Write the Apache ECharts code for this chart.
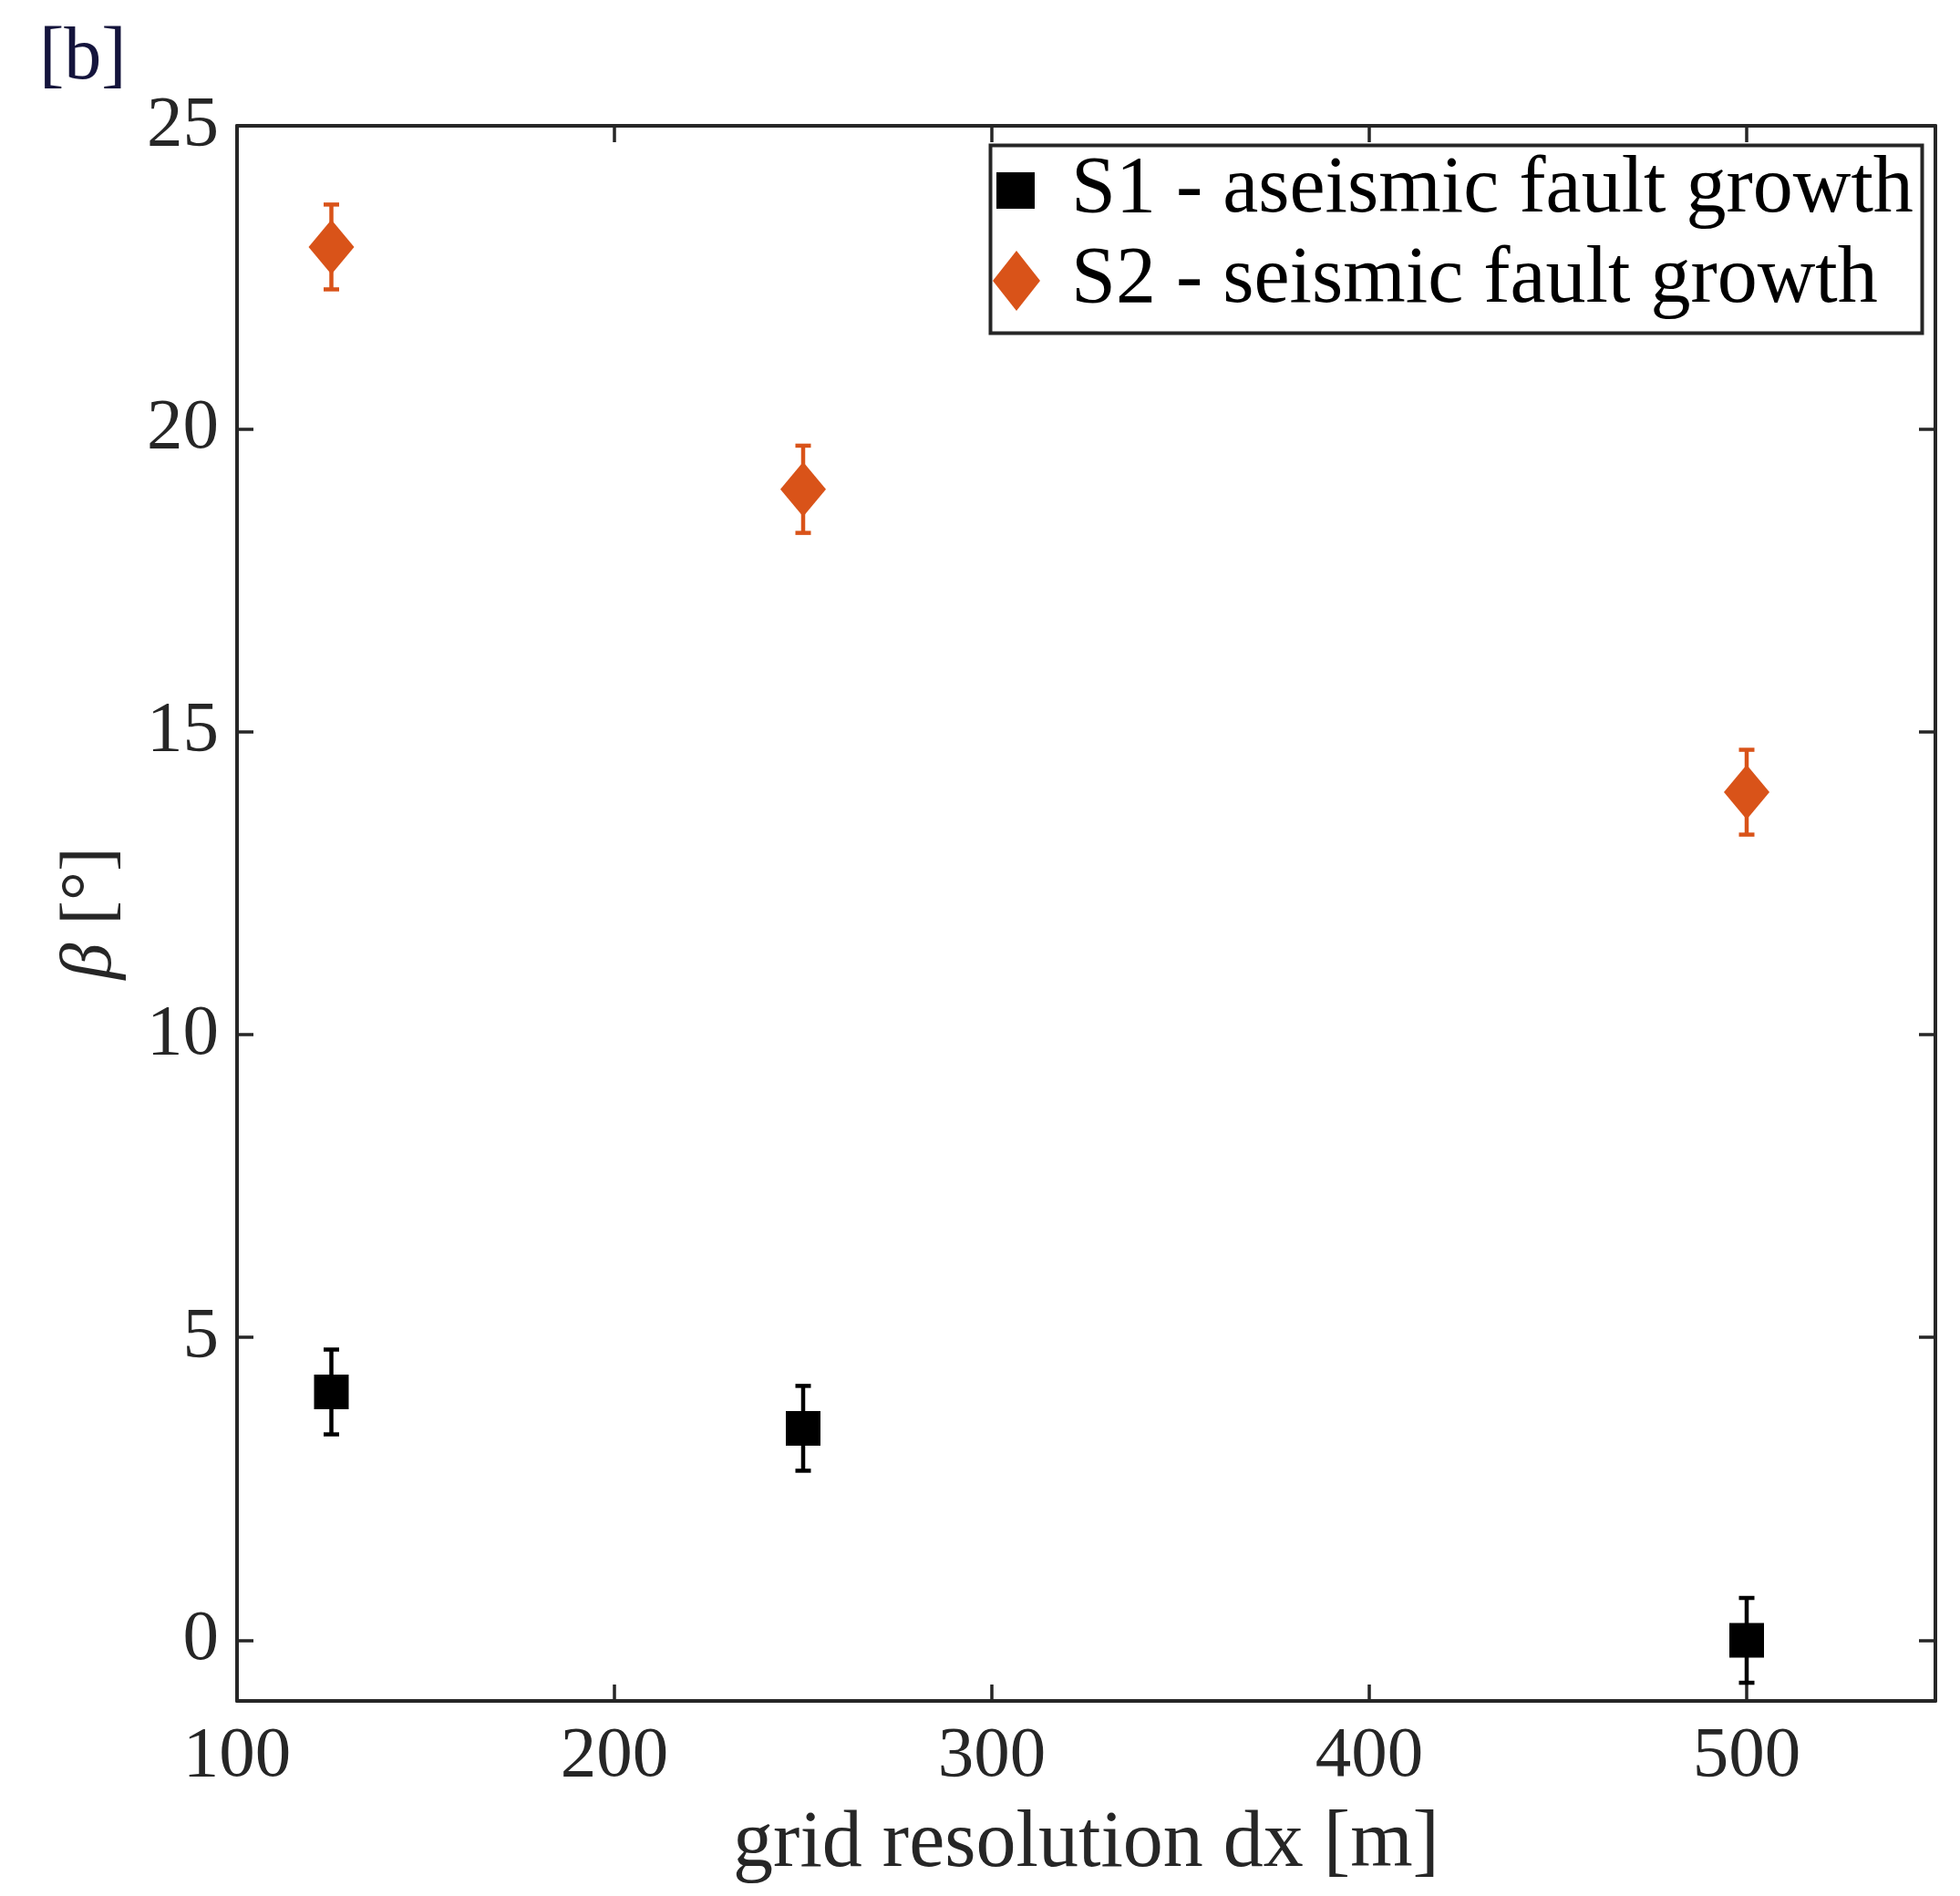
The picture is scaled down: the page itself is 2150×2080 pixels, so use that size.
<!DOCTYPE html>
<html>
<head>
<meta charset="utf-8">
<script src="https://cdn.jsdelivr.net/npm/echarts@6/dist/echarts.min.js"></script>
<style>
html,body{margin:0;padding:0;background:#fff;}
#chart{width:2150px;height:2080px;}
</style>
</head>
<body>
<div id="chart"></div>
<script>
// ---- data ----
const dx = [125, 250, 500];
const s1Beta = [4.1, 3.5, 0.0];
const s1Err = [0.7, 0.7, 0.7];
const s2Beta = [23.0, 19.0, 14.0];
const s2Err = [0.7, 0.72, 0.7];
const xTicks = [100, 200, 300, 400, 500];
const yTicks = [0, 5, 10, 15, 20, 25];
const s1Name = 'S1 - aseismic fault growth';
const s2Name = 'S2 - seismic fault growth';

const FONT = 'Liberation Serif';
const AX = '#262626';
const ORANGE = '#D95319';

const s1Pts = dx.map((x, i) => [x, s1Beta[i]]);
const s2Pts = dx.map((x, i) => [x, s2Beta[i]]);
const s1Bars = dx.map((x, i) => [x, s1Beta[i] - s1Err[i], s1Beta[i] + s1Err[i]]);
const s2Bars = dx.map((x, i) => [x, s2Beta[i] - s2Err[i], s2Beta[i] + s2Err[i]]);

function errRender(color) {
  return function (params, api) {
    const x = api.value(0), lo = api.value(1), hi = api.value(2);
    const p1 = api.coord([x, lo]);
    const p2 = api.coord([x, hi]);
    const cap = 8.5;
    const st = { stroke: color, lineWidth: 4.5 };
    return {
      type: 'group',
      children: [
        { type: 'line', shape: { x1: p1[0], y1: p1[1], x2: p2[0], y2: p2[1] }, style: st },
        { type: 'line', shape: { x1: p1[0] - cap, y1: p1[1], x2: p1[0] + cap, y2: p1[1] }, style: st },
        { type: 'line', shape: { x1: p2[0] - cap, y1: p2[1], x2: p2[0] + cap, y2: p2[1] }, style: st }
      ]
    };
  };
}

const axisLine = { show: true, onZero: false, lineStyle: { color: AX, width: 4 } };
const tickStyle = { lineStyle: { color: AX, width: 3.5 } };

const chart = echarts.init(document.getElementById('chart'));
chart.setOption({
  animation: false,
  backgroundColor: '#fff',
  title: {
    text: '[b]', left: 38, top: 18,
    textStyle: { fontFamily: FONT, fontSize: 82, fontWeight: 'normal', color: '#14143c' }
  },
  grid: { left: 260, right: 27, top: 138, bottom: 214, containLabel: false },
  xAxis: [
    {
      type: 'value', min: 100, max: 550, position: 'bottom',
      name: 'grid resolution dx [m]', nameLocation: 'middle', nameGap: 114,
      nameTextStyle: { fontFamily: FONT, fontSize: 88, color: AX },
      axisLine: axisLine,
      axisTick: Object.assign({ show: true, inside: true, length: 18, customValues: xTicks }, tickStyle),
      axisLabel: { customValues: xTicks, fontFamily: FONT, fontSize: 79, color: AX, margin: 22 },
      splitLine: { show: false }
    },
    {
      type: 'value', min: 100, max: 550, position: 'top',
      axisLine: axisLine,
      axisTick: Object.assign({ show: true, inside: true, length: 18, customValues: xTicks }, tickStyle),
      axisLabel: { show: false },
      splitLine: { show: false }
    }
  ],
  yAxis: [
    {
      type: 'value', min: -1, max: 25, position: 'left',
      name: '{i|β} [°]', nameLocation: 'middle', nameGap: 120, nameRotate: 90,
      nameTextStyle: {
        fontFamily: FONT, fontSize: 80, color: AX,
        rich: { i: { fontFamily: FONT, fontSize: 80, fontStyle: 'italic', color: AX } }
      },
      axisLine: axisLine,
      axisTick: Object.assign({ show: true, inside: true, length: 18, customValues: yTicks }, tickStyle),
      axisLabel: { customValues: yTicks, fontFamily: FONT, fontSize: 79, color: AX, margin: 20 },
      splitLine: { show: false }
    },
    {
      type: 'value', min: -1, max: 25, position: 'right',
      axisLine: axisLine,
      axisTick: Object.assign({ show: true, inside: true, length: 18, customValues: yTicks }, tickStyle),
      axisLabel: { show: false },
      splitLine: { show: false }
    }
  ],
  legend: [
    {
      data: [{ name: s1Name, icon: 'rect' }],
      left: 1093, top: 164, padding: 0,
      itemWidth: 42, itemHeight: 40,
      textStyle: { fontFamily: FONT, fontSize: 88, color: '#000', lineHeight: 90, padding: [0, 0, 0, 35] },
      selectedMode: false
    },
    {
      data: [{ name: s2Name, icon: 'diamond' }],
      left: 1089, top: 263, padding: 0,
      itemWidth: 52, itemHeight: 66,
      textStyle: { fontFamily: FONT, fontSize: 88, color: '#000', lineHeight: 90, padding: [0, 0, 0, 29] },
      selectedMode: false
    }
  ],
  graphic: [
    {
      type: 'rect', left: 1084, top: 157, z: 100,
      shape: { width: 1022, height: 206 },
      style: { fill: 'none', stroke: AX, lineWidth: 4 }
    }
  ],
  series: [
    {
      name: 's1err', type: 'custom', renderItem: errRender('#000'),
      encode: { x: 0, y: [1, 2] }, data: s1Bars, z: 2, silent: true
    },
    {
      name: 's2err', type: 'custom', renderItem: errRender(ORANGE),
      encode: { x: 0, y: [1, 2] }, data: s2Bars, z: 2, silent: true
    },
    {
      name: s1Name, type: 'scatter', data: s1Pts, symbol: 'rect', symbolSize: 38,
      itemStyle: { color: '#000', opacity: 1 }, z: 3
    },
    {
      name: s2Name, type: 'scatter', data: s2Pts, symbol: 'diamond', symbolSize: [50, 60],
      itemStyle: { color: ORANGE, opacity: 1 }, z: 3
    }
  ]
});
</script>
</body>
</html>
